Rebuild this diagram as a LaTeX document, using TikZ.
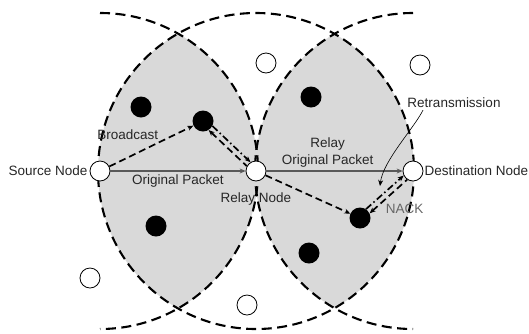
\documentclass[tikz,border=0pt]{standalone}
\usepackage{fontspec}
\setmainfont{Liberation Sans}
\usepackage{tikz}
\usetikzlibrary{
  arrows.meta,
  positioning,
  calc,
  backgrounds
}
\usepackage{xcolor}
\definecolor{lensGray}{rgb}{0.85,0.85,0.85}
\definecolor{lineGray}{rgb}{0.35,0.35,0.35}
\definecolor{textGray}{rgb}{0.15,0.15,0.15}
\definecolor{nackGray}{rgb}{0.4,0.4,0.4}
\newcommand{\idleNode}[3]{\node[idleNode] (#1) at (#2,#3) {};}
\newcommand{\rangeRadius}{158}
\tikzset{
  idleNode/.style={
    circle,
    draw=black,
    fill=white,
    line width=0.8pt,
    minimum size=20pt,
    inner sep=0pt
  }
}
\tikzset{
  helperNode/.style={
    circle,
    fill=black,
    minimum size=21pt,
    inner sep=0pt
  }
}
\tikzset{
  tag/.style={
    font=\fontsize{13.5}{17}\selectfont,
    text=textGray,
    inner sep=2pt
  },
  rangeArc/.style={
    line width=2.1pt,
    dash pattern=on 10pt off 5.5pt
  },
  packetLine/.style={
    ->,
    draw=lineGray,
    line width=1.1pt
  },
  dataLine/.style={
    line width=1.7pt,
    dash pattern=on 7pt off 4pt
  },
  ctrlLine/.style={
    line width=1.7pt,
    dash pattern=on 7pt off 3pt on 1.5pt off 3pt
  }
}

\begin{document}
\begin{tikzpicture}[x=1pt, y=-1pt, >={Stealth[length=6pt,width=5pt]}]
    \useasboundingbox (0,0) rectangle (529,333);

    % source, relay and destination
    \idleNode{src}{100}{171}
    \idleNode{relay}{256}{171}
    \idleNode{dst}{413}{171}

    % other nodes
    \foreach \Name/\X/\Y in {idleA/266/63, idleB/420/65, idleC/90/278, idleD/247/305}{
      \idleNode{\Name}{\X}{\Y}
    }
    \foreach \Name/\X/\Y in {hA/141/107, hB/203/121, hC/156/226,
                             hD/311/97, hE/360/218, hF/309/253}{
      \node[helperNode] (\Name) at (\X,\Y) {};
    }

    % transmission ranges
    \begin{scope}[on background layer]
      \begin{scope}
        \clip (src) circle (\rangeRadius);
        \fill[lensGray] (relay) circle (\rangeRadius);
      \end{scope}
      \begin{scope}
        \clip (dst) circle (\rangeRadius);
        \fill[lensGray] (relay) circle (\rangeRadius);
      \end{scope}
      \draw[rangeArc] (src) ++(0,-\rangeRadius) arc (-90:90:\rangeRadius);
      \draw[rangeArc] (relay) circle (\rangeRadius);
      \draw[rangeArc] (dst) ++(0,-\rangeRadius) arc (-90:-270:\rangeRadius);
    \end{scope}

    % labels
    \node[tag, left=0pt of src] (srcTag) {Source Node};
    \node[tag, right=-1pt of dst] (dstTag) {Destination Node};
    \node[tag, below=9pt of relay] (relayTag) {Relay Node};
    \node[tag, text=nackGray, right=13pt of hE, yshift=9pt] (nackTag) {NACK};
    \node[tag] (retx) at (454,103) {Retransmission};

    % packets
    \draw[packetLine] (src) --
      node[tag, below=1pt] {Original Packet} (relay);
    \draw[packetLine] (relay) --
      node[tag, above=1pt, align=center, pos=0.45] {Relay\\Original Packet} (dst);
    \draw[dataLine, ->] (src) --
      node[tag, pos=0.22, above=15pt] {Broadcast} (hB);
    \draw[dataLine, <-] (hB.-58) -- (relay.152);
    \draw[ctrlLine, ->] (hB.-28) -- (relay.122);
    \draw[dataLine, ->] (relay) -- (hE);
    \draw[ctrlLine, ->] (hE.56) -- (dst.206);
    \draw[dataLine, <-] (hE.26) -- (dst.236);

    \coordinate (retxTip) at (380,186);
    \draw[->, line width=0.6pt] (retx.193)
      .. controls +(-9,18) and +(3,-25) .. (retxTip);
  \end{tikzpicture}
\end{document}
